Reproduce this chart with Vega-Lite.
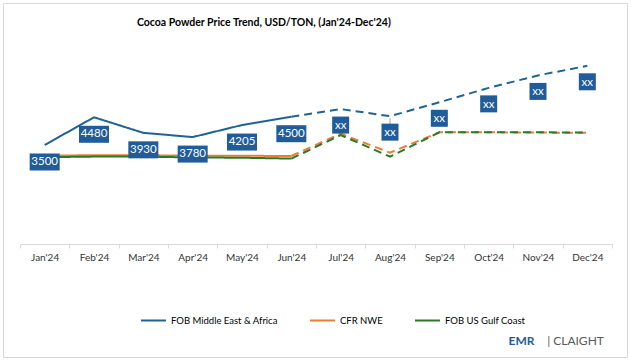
{
  "$schema": "https://vega.github.io/schema/vega-lite/v6.json",
  "width": 624,
  "height": 354,
  "autosize": "none",
  "padding": {"left": 3, "top": 3, "right": 4, "bottom": 3},
  "background": "white",
  "config": {
    "view": {"stroke": "#d9d9d9", "strokeWidth": 1},
    "font": "Lato"
  },
  "title": {
    "text": "Cocoa Powder Price Trend, USD/TON, (Jan'24-Dec'24)",
    "anchor": "start",
    "frame": "group",
    "dx": 134,
    "offset": -25,
    "fontSize": 10.5,
    "fontWeight": "bold",
    "color": "#000000"
  },
  "data": {
    "values": [
      {"series": "FOB Middle East & Africa", "month": "Jan'24", "value": 3500, "seg": "solid", "label": "3500"},
      {"series": "FOB Middle East & Africa", "month": "Feb'24", "value": 4480, "seg": "solid", "label": "4480"},
      {"series": "FOB Middle East & Africa", "month": "Mar'24", "value": 3930, "seg": "solid", "label": "3930"},
      {"series": "FOB Middle East & Africa", "month": "Apr'24", "value": 3780, "seg": "solid", "label": "3780"},
      {"series": "FOB Middle East & Africa", "month": "May'24", "value": 4205, "seg": "solid", "label": "4205"},
      {"series": "FOB Middle East & Africa", "month": "Jun'24", "value": 4500, "seg": "solid", "label": "4500"},
      {"series": "FOB Middle East & Africa", "month": "Jun'24", "value": 4500, "seg": "dash", "label": ""},
      {"series": "FOB Middle East & Africa", "month": "Jul'24", "value": 4770, "seg": "dash", "label": "xx"},
      {"series": "FOB Middle East & Africa", "month": "Aug'24", "value": 4520, "seg": "dash", "label": "xx"},
      {"series": "FOB Middle East & Africa", "month": "Sep'24", "value": 5010, "seg": "dash", "label": "xx"},
      {"series": "FOB Middle East & Africa", "month": "Oct'24", "value": 5520, "seg": "dash", "label": "xx"},
      {"series": "FOB Middle East & Africa", "month": "Nov'24", "value": 5960, "seg": "dash", "label": "xx"},
      {"series": "FOB Middle East & Africa", "month": "Dec'24", "value": 6300, "seg": "dash", "label": "xx"},
      {"series": "CFR NWE", "month": "Jan'24", "value": 3120, "seg": "solid", "label": ""},
      {"series": "CFR NWE", "month": "Feb'24", "value": 3140, "seg": "solid", "label": ""},
      {"series": "CFR NWE", "month": "Mar'24", "value": 3140, "seg": "solid", "label": ""},
      {"series": "CFR NWE", "month": "Apr'24", "value": 3120, "seg": "solid", "label": ""},
      {"series": "CFR NWE", "month": "May'24", "value": 3120, "seg": "solid", "label": ""},
      {"series": "CFR NWE", "month": "Jun'24", "value": 3110, "seg": "solid", "label": ""},
      {"series": "CFR NWE", "month": "Jun'24", "value": 3110, "seg": "dash", "label": ""},
      {"series": "CFR NWE", "month": "Jul'24", "value": 3900, "seg": "dash", "label": ""},
      {"series": "CFR NWE", "month": "Aug'24", "value": 3230, "seg": "dash", "label": ""},
      {"series": "CFR NWE", "month": "Sep'24", "value": 3950, "seg": "dash", "label": ""},
      {"series": "CFR NWE", "month": "Oct'24", "value": 3950, "seg": "dash", "label": ""},
      {"series": "CFR NWE", "month": "Nov'24", "value": 3940, "seg": "dash", "label": ""},
      {"series": "CFR NWE", "month": "Dec'24", "value": 3930, "seg": "dash", "label": ""},
      {"series": "FOB US Gulf Coast", "month": "Jan'24", "value": 3070, "seg": "solid", "label": ""},
      {"series": "FOB US Gulf Coast", "month": "Feb'24", "value": 3090, "seg": "solid", "label": ""},
      {"series": "FOB US Gulf Coast", "month": "Mar'24", "value": 3090, "seg": "solid", "label": ""},
      {"series": "FOB US Gulf Coast", "month": "Apr'24", "value": 3060, "seg": "solid", "label": ""},
      {"series": "FOB US Gulf Coast", "month": "May'24", "value": 3050, "seg": "solid", "label": ""},
      {"series": "FOB US Gulf Coast", "month": "Jun'24", "value": 3020, "seg": "solid", "label": ""},
      {"series": "FOB US Gulf Coast", "month": "Jun'24", "value": 3020, "seg": "dash", "label": ""},
      {"series": "FOB US Gulf Coast", "month": "Jul'24", "value": 3850, "seg": "dash", "label": ""},
      {"series": "FOB US Gulf Coast", "month": "Aug'24", "value": 3090, "seg": "dash", "label": ""},
      {"series": "FOB US Gulf Coast", "month": "Sep'24", "value": 3950, "seg": "dash", "label": ""},
      {"series": "FOB US Gulf Coast", "month": "Oct'24", "value": 3950, "seg": "dash", "label": ""},
      {"series": "FOB US Gulf Coast", "month": "Nov'24", "value": 3950, "seg": "dash", "label": ""},
      {"series": "FOB US Gulf Coast", "month": "Dec'24", "value": 3940, "seg": "dash", "label": ""}
    ]
  },
  "encoding": {
    "x": {
      "field": "month",
      "type": "ordinal",
      "scale": {
        "domain": ["Jan'24", "Feb'24", "Mar'24", "Apr'24", "May'24", "Jun'24", "Jul'24", "Aug'24", "Sep'24", "Oct'24", "Nov'24", "Dec'24"],
        "range": [17, 609],
        "paddingInner": 0,
        "paddingOuter": 0
      },
      "axis": {
        "offset": -113,
        "labelAngle": 0,
        "labelFontSize": 10,
        "labelColor": "#333333",
        "labelPadding": 4,
        "domainColor": "#d9d9d9",
        "tickColor": "#d9d9d9",
        "tickSize": 4,
        "tickBand": "extent",
        "grid": false,
        "title": "EMR",
        "titleX": 518,
        "titleY": 96,
        "titleAlign": "center",
        "titleBaseline": "middle",
        "titleFontSize": 12,
        "titleFontWeight": "bold",
        "titleColor": "#1F5C99"
      }
    },
    "y": {
      "field": "value",
      "type": "quantitative",
      "scale": {"domain": [0, 7000], "range": [241, 43], "nice": false, "zero": false},
      "axis": {
        "domain": false,
        "ticks": false,
        "labels": false,
        "grid": false,
        "title": "| CLAIGHT",
        "titleAngle": 0,
        "titleX": 572,
        "titleY": 337,
        "titleAlign": "center",
        "titleBaseline": "middle",
        "titleFontSize": 12,
        "titleFontWeight": "normal",
        "titleColor": "#595959"
      }
    }
  },
  "layer": [
    {
      "mark": {"type": "line", "strokeWidth": 2},
      "encoding": {
        "color": {
          "field": "series",
          "type": "nominal",
          "scale": {
            "domain": ["FOB Middle East & Africa", "CFR NWE", "FOB US Gulf Coast"],
            "range": ["#1F6391", "#ED7D31", "#267A2A"]
          },
          "legend": {
            "orient": "none",
            "direction": "horizontal",
            "legendX": 137,
            "legendY": 304,
            "title": null,
            "symbolType": "stroke",
            "symbolSize": 625,
            "symbolStrokeWidth": 2,
            "labelFontSize": 9.5,
            "labelColor": "#000000",
            "labelOffset": 4,
            "columnPadding": 28
          }
        },
        "strokeDash": {
          "field": "seg",
          "type": "nominal",
          "scale": {"domain": ["solid", "dash"], "range": [[1, 0], [8, 5]]},
          "legend": null
        }
      }
    },
    {
      "transform": [{"filter": "datum.month == \"Aug'24\" && datum.label == 'xx'"}],
      "mark": {"type": "rule", "color": "#a6a6a6", "strokeWidth": 1, "yOffset": 2, "y2Offset": 9},
      "encoding": {"y2": {"field": "value"}}
    },
    {
      "transform": [{"filter": "datum.label != '' && datum.label != 'xx'"}],
      "mark": {"type": "point", "filled": true, "shape": "M-1,-0.567H1V0.567H-1Z", "size": 900, "color": "#1F5C99", "opacity": 1, "strokeWidth": 0, "yOffset": 17}
    },
    {
      "transform": [{"filter": "datum.label == 'xx'"}],
      "mark": {"type": "point", "filled": true, "shape": "square", "size": 289, "color": "#1F5C99", "opacity": 1, "strokeWidth": 0, "yOffset": 16}
    },
    {
      "transform": [{"filter": "datum.label != ''"}],
      "mark": {"type": "text", "color": "#ffffff", "fontSize": 11.5, "baseline": "middle", "align": "center", "yOffset": 17},
      "encoding": {"text": {"field": "label"}}
    }
  ]
}
